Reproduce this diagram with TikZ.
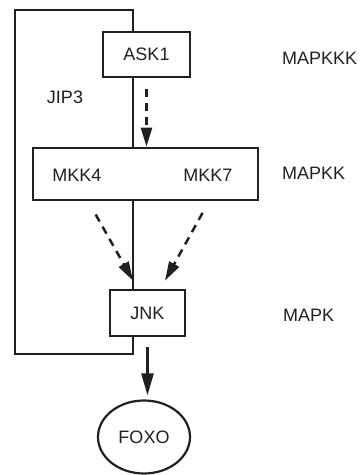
\documentclass[tikz,border=0pt]{standalone}
\usepackage{fontspec}
\setmainfont{Liberation Sans}
\usetikzlibrary{positioning,calc}
\usetikzlibrary{arrows.meta,shapes.geometric}
\definecolor{InkGray}{RGB}{35,31,32}
\tikzset{
  kbox/.style={draw=InkGray,line width=2.7pt,fill=white,inner sep=0pt},
  lbl/.style={inner sep=0pt,text=InkGray,font=\fontsize{18pt}{21pt}\selectfont},
  frame/.style={draw=InkGray,line width=2.7pt},
}
\tikzset{dasharr/.style={draw=InkGray,line width=2.5pt,dash pattern=on 8pt off 6pt,-{Triangle[length=19pt,width=11pt]}}, solarr/.style={draw=InkGray,line width=2.6pt,-{Triangle[length=22pt,width=12pt]}}}

\begin{document}
\begin{tikzpicture}[x=1pt,y=-1pt]
\useasboundingbox (0,0) rectangle (360,475);
\coordinate (spine) at (133,0);
% kinase boxes
\node[kbox,lbl,minimum width=87pt,minimum height=45pt] (ask1) at (146.5,54.5) {ASK1};
\node[kbox,minimum width=225pt,minimum height=52pt] (mkk) at (145.5,174) {};
\node[kbox,lbl,minimum width=75pt,minimum height=46pt] (jnk) at (147.5,313) {JNK};
\node[lbl,draw=InkGray,line width=2.2pt,ellipse,minimum width=92pt,minimum height=73pt] (foxo) at (144,437) {FOXO};
\node[lbl] (mkk4) at (77,175) {MKK4};
\node[lbl] (mkk7) at (208,175) {MKK7};
\node[lbl] (jip3) at (65,97) {JIP3};
% levels
\node[lbl,anchor=west] (lvl3) at (282,58) {MAPKKK};
\node[lbl,anchor=west] (lvl2) at (282,173) {MAPKK};
\node[lbl,anchor=west] (lvl1) at (283,315) {MAPK};
% scaffold
\draw[frame] (jnk.south -| spine) -- (133,354) -- (15,354) -- (15,10) -- (133,10) -- (ask1.north -| spine);
\draw[frame] (ask1.south -| spine) -- (mkk.north -| spine);
\draw[frame] (mkk.south -| spine) -- (jnk.north -| spine);
% signalling
\coordinate (tipL) at ([xshift=-14.5pt,yshift=8pt]jnk.north);
\coordinate (tipR) at ([xshift=17.5pt,yshift=8pt]jnk.north);
\coordinate (srcR) at ([xshift=12pt]mkk7.south);
\draw[dasharr,shorten <=11pt] (ask1.south) -- (ask1.south |- mkk.north);
\draw[dasharr,shorten <=38pt] (mkk4.south) -- (tipL);
\draw[dasharr,shorten <=36pt] (srcR) -- (tipR);
\draw[solarr,shorten <=10pt,shorten >=4pt] (jnk.south) -- (jnk.south |- foxo.north);
\end{tikzpicture}
\end{document}
